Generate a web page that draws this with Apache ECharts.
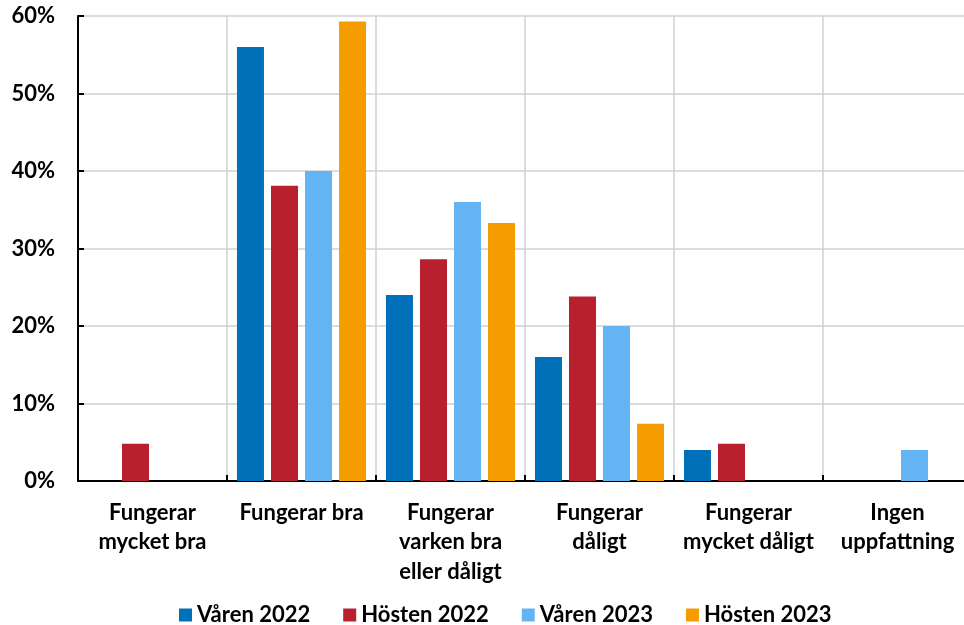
<!DOCTYPE html>
<html>
<head>
<meta charset="utf-8">
<script src="https://cdn.jsdelivr.net/npm/echarts@6/dist/echarts.min.js"></script>
<style>
  html, body { margin: 0; padding: 0; background: #fff; overflow: hidden; }
  /* a bit wider than the window: the plot runs past the right edge, like the original */
  #chart { width: 980px; height: 625px; }
</style>
</head>
<body>
<div id="chart"></div>
<script>
// Categories and series values (percent)
const categories = [
    'Fungerar\nmycket bra',
    'Fungerar bra',
    'Fungerar\nvarken bra\neller dåligt',
    'Fungerar\ndåligt',
    'Fungerar\nmycket dåligt',
    'Ingen\nuppfattning'
];
const varen2022 = [0, 56.0, 24.0, 16.0, 4.0, 0];
const hosten2022 = [4.8, 38.1, 28.6, 23.8, 4.8, 0];
const varen2023 = [0, 40.0, 36.0, 20.0, 0, 4.0];
const hosten2023 = [0, 59.3, 33.3, 7.4, 0, 0];

const seriesNames = ['Våren 2022', 'Hösten 2022', 'Våren 2023', 'Hösten 2023'];
const colors = ['#0070b8', '#b8202e', '#63b4f2', '#f59c00'];

const FONT = 'Lato, "Open Sans", sans-serif';

const chart = echarts.init(document.getElementById('chart'));

const makeSeries = (name, values, color) => ({
    name: name,
    type: 'bar',
    data: values,
    barWidth: 27,
    barGap: '26%',
    itemStyle: { color: color },
    emphasis: { disabled: true }
});

chart.setOption({
    animation: false,
    grid: { left: 78, right: 8, top: 16, bottom: 144, containLabel: false },
    legend: {
        top: 599,
        left: 174,
        itemWidth: 13,
        itemHeight: 13,
        itemGap: 33,
        icon: 'rect',
        textStyle: { fontFamily: FONT, fontWeight: 'bold', fontSize: 22, color: '#000' },
        data: seriesNames
    },
    xAxis: {
        type: 'category',
        data: categories,
        axisLine: { lineStyle: { color: '#000', width: 2 } },
        axisTick: { show: true, inside: true, length: 6, lineStyle: { color: '#000', width: 2 } },
        splitLine: { show: true, lineStyle: { color: '#d0d0d0', width: 1.5 } },
        axisLabel: {
            margin: 17,
            interval: 0,
            fontFamily: FONT,
            fontWeight: 'bold',
            fontSize: 22,
            lineHeight: 29.5,
            color: '#000'
        }
    },
    yAxis: {
        type: 'value',
        min: 0,
        max: 60,
        interval: 10,
        axisLine: { show: true, lineStyle: { color: '#000', width: 2 } },
        axisTick: { show: true, inside: true, length: 6, lineStyle: { color: '#000', width: 2 } },
        splitLine: { lineStyle: { color: '#d0d0d0', width: 1.5 } },
        axisLabel: {
            formatter: '{value}%',
            margin: 23,
            fontFamily: FONT,
            fontWeight: 'bold',
            fontSize: 22,
            color: '#000'
        }
    },
    series: [
        makeSeries(seriesNames[0], varen2022, colors[0]),
        makeSeries(seriesNames[1], hosten2022, colors[1]),
        makeSeries(seriesNames[2], varen2023, colors[2]),
        makeSeries(seriesNames[3], hosten2023, colors[3])
    ]
});
</script>
</body>
</html>
